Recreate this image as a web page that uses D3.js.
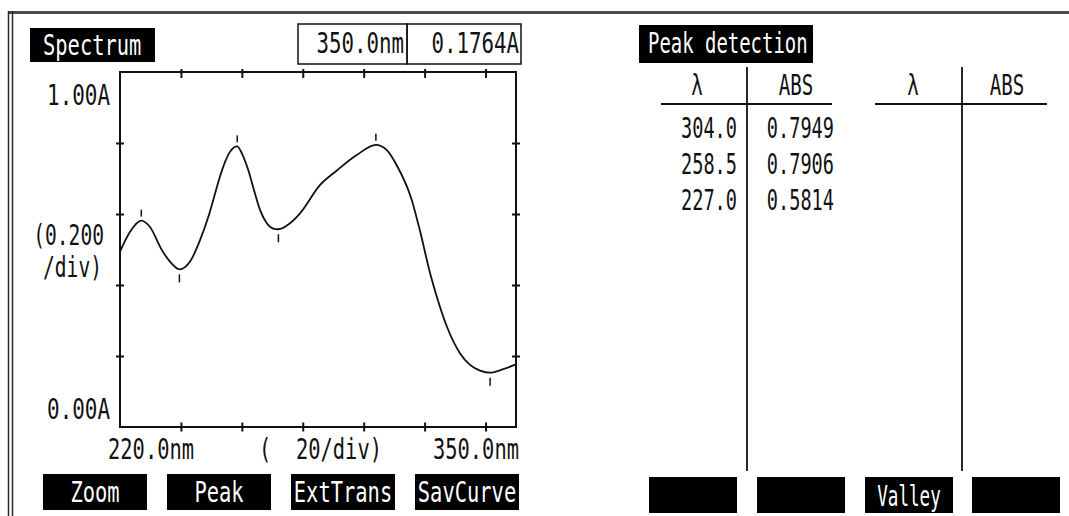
<!DOCTYPE html>
<html>
<head>
<meta charset="utf-8">
<script src="https://cdn.jsdelivr.net/npm/d3@7"></script>
<style>
  html, body { margin: 0; padding: 0; background: #fff; }
  svg { display: block; }
  text { font-family: "DejaVu Sans Mono", monospace; font-size: 29px; fill: #111; }
  text.inv { fill: #fff; }
</style>
</head>
<body>
<svg id="screen" width="1069" height="516"></svg>
<script>
// Absorbance spectrum (nm, A)
const wavelengths = [220.0, 223.3, 227.0, 229.8, 233.7, 236.4, 239.5, 243.0, 246.3, 249.0, 250.6, 252.8,
  254.5, 256.1, 258.5, 260.0, 262.1, 264.3, 266.0, 268.2, 270.3, 272.0, 275.8, 279.1, 285.7, 291.1,
  297.7, 304.0, 307.6, 310.8, 315.8, 318.5, 321.8, 324.0, 327.3, 331.6, 334.9, 338.2, 341.5, 345.8, 350.0];
const absorbance = [0.494, 0.550, 0.5814, 0.564, 0.499, 0.466, 0.444, 0.466, 0.527, 0.592, 0.639, 0.705,
  0.747, 0.775, 0.7906, 0.771, 0.724, 0.658, 0.611, 0.574, 0.559, 0.557, 0.574, 0.602, 0.682, 0.722,
  0.766, 0.7949, 0.780, 0.738, 0.639, 0.552, 0.433, 0.367, 0.283, 0.208, 0.175, 0.159, 0.153, 0.163, 0.1764];

// Detected peaks (table order) and valleys
const peakWl = [304.0, 258.5, 227.0];
const peakAbs = [0.7949, 0.7906, 0.5814];
const valleyWl = [239.5, 272.0, 341.5];
const valleyAbs = [0.444, 0.557, 0.153];

// Cursor readout
const cursorWl = 350.0;
const cursorAbs = 0.1764;

// Axis settings
const wlRange = [220, 350];
const absRange = [0, 1];
const xTicks = [240, 260, 280, 300, 320, 340];
const yTicks = [0.2, 0.4, 0.6, 0.8];
const xStepLabel = "(  20/div)";
const yStepLabel = ["(0.200", "/div)"];

// Soft keys
const leftKeys = ["Zoom", "Peak", "ExtTrans", "SavCurve"];
const rightKeys = ["", "", "Valley", ""];

// Table headings
const tableHead = ["\u03bb", "ABS"];

const svg = d3.select("#screen");
const fmtWl = d3.format(".1f");
const fmtAbs = d3.format(".4f");
const fmtAxis = d3.format(".2f");

// Condensed LCD-style text: monospace glyphs squeezed to a fixed character pitch
const FONT_PX = 29;
const ADVANCE = 0.602 * FONT_PX;
function lcd(g, str, x, y, pitch, anchor, cls) {
  const t = g.append("text")
    .attr("transform", `translate(${x},${y}) scale(${pitch / ADVANCE},1)`)
    .attr("text-anchor", anchor || "start")
    .attr("xml:space", "preserve")
    .style("white-space", "pre")
    .text(str);
  if (cls) t.attr("class", cls);
  return t;
}

// Screen frame
svg.append("rect").attr("x", 8).attr("y", 11).attr("width", 1061).attr("height", 3).attr("fill", "#4a4a4a");
[8.5, 12.5].forEach(x => svg.append("line").attr("x1", x).attr("x2", x).attr("y1", 11).attr("y2", 516)
  .attr("stroke", "#2a2a2a").attr("stroke-width", 1.5));

// ---------- Spectrum panel ----------
const x = d3.scaleLinear().domain(wlRange).range([120, 516]);
const y = d3.scaleLinear().domain(absRange).range([427, 72]);

const left = svg.append("g");

// Title
left.append("rect").attr("x", 30).attr("y", 28).attr("width", 125).attr("height", 34).attr("fill", "#000");
lcd(left, "Spectrum", 43, 55, 12.3, "start", "inv");

// Cursor readout boxes
left.append("rect").attr("x", 298).attr("y", 24).attr("width", 109).attr("height", 40)
  .attr("fill", "none").attr("stroke", "#111").attr("stroke-width", 1.5);
left.append("rect").attr("x", 407).attr("y", 24).attr("width", 114).attr("height", 40)
  .attr("fill", "none").attr("stroke", "#111").attr("stroke-width", 1.5);
lcd(left, fmtWl(cursorWl) + "nm", 404, 53, 12.5, "end");
lcd(left, fmtAbs(cursorAbs) + "A", 519, 53, 12.5, "end");

// Plot frame
left.append("rect").attr("x", x(wlRange[0])).attr("y", y(absRange[1]))
  .attr("width", x(wlRange[1]) - x(wlRange[0])).attr("height", y(absRange[0]) - y(absRange[1]))
  .attr("fill", "none").attr("stroke", "#111").attr("stroke-width", 2);

// Crossing tick marks on all four sides
function ticks(axis, tf) {
  const g = left.append("g").attr("transform", tf).call(axis);
  g.select(".domain").remove();
  g.selectAll("text").remove();
  g.selectAll("line").attr("stroke", "#111").attr("stroke-width", 2);
}
ticks(d3.axisBottom(x).tickValues(xTicks).tickSize(9), `translate(0,${y(0) - 4.5})`);
ticks(d3.axisBottom(x).tickValues(xTicks).tickSize(9), `translate(0,${y(1) - 3})`);
ticks(d3.axisLeft(y).tickValues(yTicks).tickSize(8), `translate(${x(wlRange[0]) + 4},0)`);
ticks(d3.axisLeft(y).tickValues(yTicks).tickSize(8), `translate(${x(wlRange[1]) + 4},0)`);

// Axis labels
lcd(left, fmtAxis(absRange[1]) + "A", 110, 105, 12.6, "end");
lcd(left, fmtAxis(absRange[0]) + "A", 110, 419, 12.6, "end");
lcd(left, yStepLabel[0], 104, 245, 11.8, "end");
lcd(left, yStepLabel[1], 102, 277, 11.8, "end");
lcd(left, fmtWl(wlRange[0]) + "nm", 108, 459, 12.3, "start");
lcd(left, xStepLabel, 259, 459, 12.3, "start");
lcd(left, fmtWl(wlRange[1]) + "nm", 519, 459, 12.3, "end");

// Spectrum curve
const pts = wavelengths.map((w, i) => [w, absorbance[i]]);
left.append("path").datum(pts)
  .attr("d", d3.line().x(d => x(d[0])).y(d => y(d[1])).curve(d3.curveMonotoneX))
  .attr("fill", "none").attr("stroke", "#111").attr("stroke-width", 1.8);

// Peak / valley markers
left.selectAll(".pk").data(peakWl.map((w, i) => [w, peakAbs[i]])).join("line")
  .attr("x1", d => x(d[0])).attr("x2", d => x(d[0]))
  .attr("y1", d => y(d[1]) - 11).attr("y2", d => y(d[1]) - 4)
  .attr("stroke", "#111").attr("stroke-width", 1.5);
left.selectAll(".vl").data(valleyWl.map((w, i) => [w, valleyAbs[i]])).join("line")
  .attr("x1", d => x(d[0])).attr("x2", d => x(d[0]))
  .attr("y1", d => y(d[1]) + 5).attr("y2", d => y(d[1]) + 13)
  .attr("stroke", "#111").attr("stroke-width", 1.5);

// Soft keys
leftKeys.forEach((k, i) => {
  const bx = 43 + i * 124;
  left.append("rect").attr("x", bx).attr("y", 474).attr("width", 104).attr("height", 36).attr("fill", "#000");
  lcd(left, k, bx + 52, 502, Math.min(12.3, 100 / k.length), "middle", "inv");
});

// ---------- Peak detection panel ----------
const right = svg.append("g");
right.append("rect").attr("x", 639).attr("y", 25).attr("width", 174).attr("height", 38).attr("fill", "#000");
lcd(right, "Peak detection", 648, 53, 11.4, "start", "inv");

// Two table column sets
const tables = [
  { lamX: 697, absX: 796, div: 747, u0: 661, u1: 832 },
  { lamX: 913, absX: 1007, div: 962, u0: 875, u1: 1047 }
];
tables.forEach(t => {
  lcd(right, tableHead[0], t.lamX, 95, 11.5, "middle");
  lcd(right, tableHead[1], t.absX, 95, 11.5, "middle");
  right.append("line").attr("x1", t.u0).attr("x2", t.u1).attr("y1", 104).attr("y2", 104)
    .attr("stroke", "#111").attr("stroke-width", 2);
  right.append("line").attr("x1", t.div).attr("x2", t.div).attr("y1", 67).attr("y2", 471)
    .attr("stroke", "#111").attr("stroke-width", 1.8);
});

// Peak rows
peakWl.forEach((w, i) => {
  const by = 138 + i * 36;
  lcd(right, fmtWl(w), 737, by, 11.2, "end");
  lcd(right, fmtAbs(peakAbs[i]), 834, by, 11.2, "end");
});

// Soft keys
const rKeyX = [649, 757, 865, 972];
rightKeys.forEach((k, i) => {
  right.append("rect").attr("x", rKeyX[i]).attr("y", 477).attr("width", 88).attr("height", 36).attr("fill", "#000");
  if (k) lcd(right, k, rKeyX[i] + 44, 506, 10.6, "middle", "inv");
});
</script>
</body>
</html>
